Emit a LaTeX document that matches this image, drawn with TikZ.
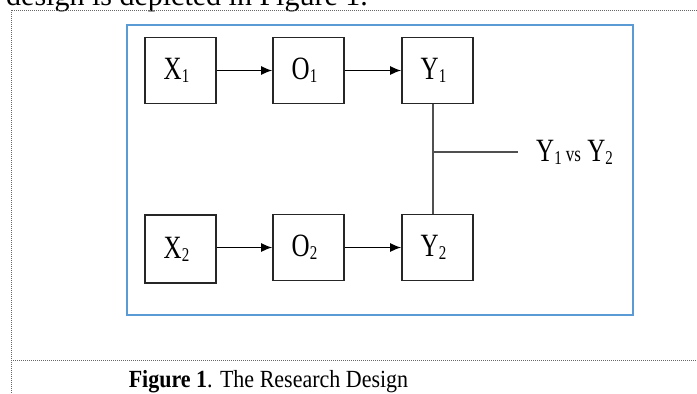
\documentclass[tikz,border=0pt]{standalone}
\usepackage{fontspec}
\setmainfont{Liberation Serif}
\usetikzlibrary{arrows.meta}
\definecolor{frameblue}{RGB}{91,155,213}
\definecolor{linkgray}{RGB}{80,80,80}
\newcommand\lowsub[1]{\raisebox{-2.3pt}{\fontsize{15}{15}\selectfont #1}}
\newcommand\boxtxt[2]{\scalebox{1}[1.3]{\fontsize{25}{25}\selectfont #1\lowsub{#2}}}
\tikzset{
  stagebox/.style={draw=black!85, line width=1.7pt, minimum width=71pt, minimum height=66pt, inner sep=0pt},
  flowarrow/.style={-{Latex[length=11pt,width=9pt]}, line width=1.3pt, black},
  linkline/.style={linkgray, line width=2pt},
  dotline/.style={black!60, line width=0.9pt, dash pattern=on 1pt off 1pt},
}
\begin{document}
\begin{tikzpicture}[x=1pt,y=-1pt]
\useasboundingbox (0,0) rectangle (697,394);
\clip (0,0) rectangle (697,394);
% running text, cut off at top
\node[anchor=base west, inner sep=0pt, font=\fontsize{30}{30}\selectfont] (runtext) at (6,5) {design is depicted in Figure 1.};
% table cell dotted borders
\coordinate (tl) at (11,10);
\coordinate (tr) at (697,10);
\coordinate (ml) at (11,360);
\coordinate (mr) at (697,360);
\coordinate (bl) at (11,394);
\draw[dotline] (tr) -- (tl) -- (bl);
\draw[dotline] (ml) -- (mr);
% blue frame
\node[draw=frameblue, line width=2.6pt, minimum width=506pt, minimum height=290pt, inner sep=0pt] (frame) at (380,170) {};
% boxes
\node[stagebox] (X1) at (180.5,70.5) {\hspace*{-8pt}\boxtxt{X}{1}};
\node[stagebox] (O1) at (308.5,70.5) {\hspace*{-8pt}\boxtxt{O}{1}};
\node[stagebox] (Y1) at (437.5,70.5) {\hspace*{-8pt}\boxtxt{Y}{1}};
\node[stagebox, minimum height=68pt] (X2) at (180.5,249) {\hspace*{-8pt}\boxtxt{X}{2}};
\node[stagebox] (O2) at (308.5,247.5) {\hspace*{-8pt}\boxtxt{O}{2}};
\node[stagebox] (Y2) at (437.5,247.5) {\hspace*{-8pt}\boxtxt{Y}{2}};
% arrows
\draw[flowarrow] (X1.east) -- (O1.west);
\draw[flowarrow] (O1.east) -- (Y1.west);
\draw[flowarrow] (X2.east |- O2.west) -- (O2.west);
\draw[flowarrow] (O2.east) -- (Y2.west);
% comparison link
\coordinate (j) at (433,152);
\coordinate (e) at (518,152);
\draw[linkline] (j |- Y1.south) -- (j |- Y2.north);
\draw[linkline] (j) -- (e);
\node[anchor=west, inner sep=0pt] (cmp) at (536,152) {\scalebox{1}[1.3]{\fontsize{25}{25}\selectfont Y\lowsub{1}\,{\fontsize{17}{17}\selectfont vs} Y\lowsub{2}}};
% caption
\node[anchor=base, inner sep=0pt] (caption) at (268.5,387) {\scalebox{1}[1.12]{\fontsize{22}{22}\selectfont\textbf{Figure 1}. The Research Design}};
\end{tikzpicture}
\end{document}
